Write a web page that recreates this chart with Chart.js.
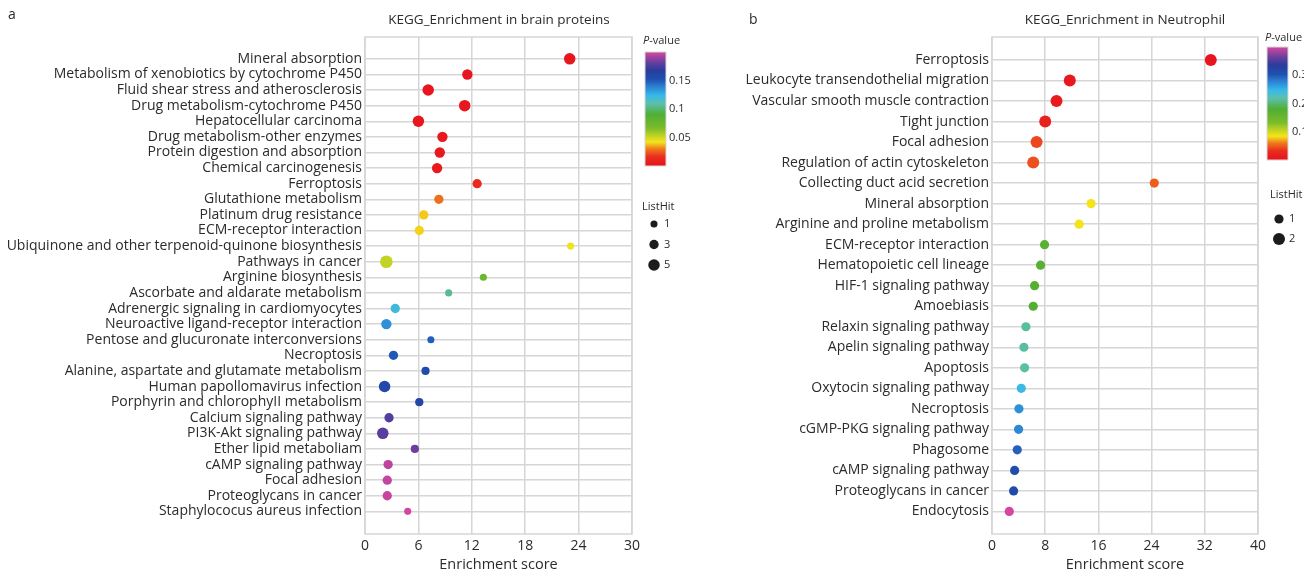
<!DOCTYPE html>
<html>
<head>
<meta charset="utf-8">
<script src="https://cdn.jsdelivr.net/npm/chart.js@4.4.1/dist/chart.umd.min.js"></script>
<style>
    html, body { margin: 0; padding: 0; background: #fff; width: 1304px; height: 571px; overflow: hidden; }
    body { position: relative; font-family: "Open Sans", sans-serif; color: #2b2b2b; }
    .panel { position: absolute; top: 0; height: 571px; }
    #panelA { left: 0; width: 740px; }
    #panelB { left: 740px; width: 564px; }
    .tag { position: absolute; font-size: 14px; line-height: 16px; }
    .title { position: absolute; font-size: 13.5px; line-height: 16px; white-space: nowrap; transform: translateX(-50%); }
</style>
</head>
<body>
<div class="panel" id="panelA"><canvas id="chartA" width="740" height="571"></canvas></div>
<div class="panel" id="panelB"><canvas id="chartB" width="564" height="571"></canvas></div>
<div class="tag" style="left:8px;top:6px">a</div>
<div class="tag" style="left:749px;top:11px">b</div>
<div class="title" style="left:499px;top:11px">KEGG_Enrichment in brain proteins</div>
<div class="title" style="left:1125px;top:11px">KEGG_Enrichment in Neutrophil</div>

<script>
    "use strict";

    // panel a - brain proteins
    const brainPathways = [
        "Mineral absorption",
        "Metabolism of xenobiotics by cytochrome P450",
        "Fluid shear stress and atherosclerosis",
        "Drug metabolism-cytochrome P450",
        "Hepatocellular carcinoma",
        "Drug metabolism-other enzymes",
        "Protein digestion and absorption",
        "Chemical carcinogenesis",
        "Ferroptosis",
        "Glutathione metabolism",
        "Platinum drug resistance",
        "ECM-receptor interaction",
        "Ubiquinone and other terpenoid-quinone biosynthesis",
        "Pathways in cancer",
        "Arginine biosynthesis",
        "Ascorbate and aldarate metabolism",
        "Adrenergic signaling in cardiomyocytes",
        "Neuroactive ligand-receptor interaction",
        "Pentose and glucuronate interconversions",
        "Necroptosis",
        "Alanine, aspartate and glutamate metabolism",
        "Human papollomavirus infection",
        "Porphyrin and chlorophyII metabolism",
        "Calcium signaling pathway",
        "PI3K-Akt signaling pathway",
        "Ether lipid metaboliam",
        "cAMP signaling pathway",
        "Focal adhesion",
        "Proteoglycans in cancer",
        "Staphylococus aureus infection"
    ];
    const brainScores = [23.0, 11.5, 7.1, 11.2, 6.0, 8.7, 8.4, 8.1, 12.6, 8.3,
        6.6, 6.1, 23.1, 2.4, 13.3, 9.4, 3.4, 2.4, 7.4, 3.2,
        6.8, 2.2, 6.1, 2.7, 2.0, 5.6, 2.6, 2.5, 2.5, 4.8];
    const brainPValues = [0.001, 0.002, 0.002, 0.003, 0.003, 0.004, 0.004, 0.005, 0.015, 0.028,
        0.039, 0.040, 0.043, 0.053, 0.075, 0.105, 0.120, 0.135, 0.148, 0.150,
        0.155, 0.158, 0.160, 0.177, 0.178, 0.182, 0.196, 0.197, 0.198, 0.200];
    const brainHits = [5, 4, 5, 5, 5, 4, 4, 4, 3, 3,
        3, 3, 1, 6, 1, 1, 3, 4, 1, 3,
        2, 5, 2, 3, 5, 2, 3, 3, 3, 1];
    const brainXTicks = [0, 6, 12, 18, 24, 30];
    const brainPRange = [0, 0.2];
    const brainPTicks = [0.05, 0.1, 0.15];
    const brainHitTicks = [1, 3, 5];

    // panel b - neutrophil
    const neutroPathways = [
        "Ferroptosis",
        "Leukocyte transendothelial migration",
        "Vascular smooth muscle contraction",
        "Tight junction",
        "Focal adhesion",
        "Regulation of actin cytoskeleton",
        "Collecting duct acid secretion",
        "Mineral absorption",
        "Arginine and proline metabolism",
        "ECM-receptor interaction",
        "Hematopoietic cell lineage",
        "HIF-1 signaling pathway",
        "Amoebiasis",
        "Relaxin signaling pathway",
        "Apelin signaling pathway",
        "Apoptosis",
        "Oxytocin signaling pathway",
        "Necroptosis",
        "cGMP-PKG signaling pathway",
        "Phagosome",
        "cAMP signaling pathway",
        "Proteoglycans in cancer",
        "Endocytosis"
    ];
    const neutroScores = [32.9, 11.7, 9.7, 8.0, 6.7, 6.2, 24.4, 14.9, 13.1, 7.9,
        7.3, 6.4, 6.2, 5.1, 4.8, 4.9, 4.4, 4.05, 4.0, 3.8,
        3.4, 3.25, 2.6];
    const neutroPValues = [0.004, 0.008, 0.012, 0.018, 0.042, 0.045, 0.050, 0.084, 0.085, 0.170,
        0.172, 0.175, 0.176, 0.215, 0.216, 0.217, 0.245, 0.270, 0.275, 0.295,
        0.310, 0.312, 0.400];
    const neutroHits = [2, 2, 2, 2, 2, 2, 1, 1, 1, 1,
        1, 1, 1, 1, 1, 1, 1, 1, 1, 1,
        1, 1, 1];
    const neutroXTicks = [0, 8, 16, 24, 32, 40];
    const neutroPRange = [0, 0.4];
    const neutroPTicks = [0.1, 0.2, 0.3];
    const neutroHitTicks = [1, 2];

    const FONT = '"Open Sans", sans-serif';
    const TEXT = "#2b2b2b";
    const GRID = "#d6d6d6";

    // rainbow scale of the p-value bars, bottom (low p) to top (high p)
    const colorStops = [
        [0.00, "#e8121e"], [0.08, "#e92c1e"], [0.15, "#ef7a1c"], [0.21, "#f4e41a"],
        [0.26, "#c6d522"], [0.33, "#7cbc2a"], [0.45, "#4fae34"], [0.55, "#5cc0b0"],
        [0.62, "#36b8ea"], [0.70, "#2a7ed0"], [0.76, "#1e50b0"], [0.84, "#2a3c9c"],
        [0.91, "#6a3f9e"], [1.00, "#d4469f"]
    ];

    function hexRgb(hex) {
        const n = parseInt(hex.slice(1), 16);
        return [(n >> 16) & 255, (n >> 8) & 255, n & 255];
    }

    function pColor(p, range) {
        const t = Math.max(0, Math.min(1, (p - range[0]) / (range[1] - range[0])));
        for (let i = 1; i < colorStops.length; i++) {
            const [t1, c1] = colorStops[i];
            if (t <= t1) {
                const [t0, c0] = colorStops[i - 1];
                const f = (t - t0) / (t1 - t0);
                const a = hexRgb(c0), b = hexRgb(c1);
                const mix = a.map((v, k) => Math.round(v + (b[k] - v) * f));
                return `rgb(${mix[0]},${mix[1]},${mix[2]})`;
            }
        }
        return colorStops[colorStops.length - 1][1];
    }

    const framePlugin = {
        id: "frame",
        beforeDatasetsDraw(chart) {
            const { ctx, chartArea: a } = chart;
            ctx.save();
            ctx.strokeStyle = GRID;
            ctx.lineWidth = 1.5;
            ctx.strokeRect(a.left, a.top, a.right - a.left, a.bottom - a.top);
            ctx.restore();
        }
    };

    // colour bar + ListHit key, drawn to the right of the plot
    function keyPlugin(k) {
        return {
            id: "key",
            afterDraw(chart) {
                const ctx = chart.ctx;
                ctx.save();
                ctx.textBaseline = "middle";
                ctx.textAlign = "left";
                ctx.fillStyle = TEXT;
                ctx.font = `italic 11px ${FONT}`;
                ctx.fillText("P", k.titleX, k.titleY);
                const pw = ctx.measureText("P").width;
                ctx.font = `11px ${FONT}`;
                ctx.fillText("-value", k.titleX + pw, k.titleY);

                const g = ctx.createLinearGradient(0, k.barY + k.barH, 0, k.barY);
                colorStops.forEach(([t, c]) => g.addColorStop(t, c));
                ctx.fillStyle = g;
                ctx.fillRect(k.barX, k.barY, k.barW, k.barH);
                ctx.strokeStyle = "#d8d8d8";
                ctx.lineWidth = 1;
                ctx.strokeRect(k.barX, k.barY, k.barW, k.barH);

                ctx.fillStyle = TEXT;
                k.pTicks.forEach(p => {
                    const y = k.barY + k.barH - (p - k.pRange[0]) / (k.pRange[1] - k.pRange[0]) * k.barH;
                    ctx.fillText(String(p), k.labelX, y);
                });

                ctx.fillText("ListHit", k.hitX, k.hitY);
                k.hitTicks.forEach((h, i) => {
                    const y = k.dotY + i * k.dotGap;
                    ctx.beginPath();
                    ctx.arc(k.dotX, y, k.rBase + k.rStep * h, 0, Math.PI * 2);
                    ctx.fillStyle = "#1c1c1c";
                    ctx.fill();
                    ctx.fillStyle = TEXT;
                    ctx.fillText(String(h), k.dotX + 10, y);
                });
                ctx.restore();
            }
        };
    }

    function makePanel(canvasId, d, k) {
        const last = d.labels.length - 1;
        return new Chart(document.getElementById(canvasId), {
            type: "scatter",
            data: {
                datasets: [{
                    data: d.scores.map((x, i) => ({ x, y: i })),
                    backgroundColor: d.pvals.map(p => pColor(p, d.pRange)),
                    borderWidth: 0,
                    pointRadius: d.hits.map(h => k.rBase + k.rStep * h),
                    pointHoverRadius: d.hits.map(h => k.rBase + k.rStep * h)
                }]
            },
            options: {
                responsive: false,
                animation: false,
                devicePixelRatio: 1,
                layout: { padding: { top: 37, right: k.padRight, bottom: 0, left: 0 } },
                plugins: { legend: { display: false }, tooltip: { enabled: false } },
                scales: {
                    x: {
                        type: "linear",
                        min: d.xTicks[0],
                        max: d.xTicks[d.xTicks.length - 1],
                        afterBuildTicks: s => { s.ticks = d.xTicks.map(v => ({ value: v })); },
                        afterFit: s => { s.height = 37; },
                        grid: { color: GRID, lineWidth: 1.5, drawTicks: false },
                        border: { display: false },
                        ticks: { color: TEXT, font: { family: FONT, size: 14 }, padding: 4, maxRotation: 0 },
                        title: {
                            display: true, text: "Enrichment score", color: TEXT,
                            font: { family: FONT, size: 14.5 }, padding: { top: 0, bottom: -3 }
                        }
                    },
                    y: {
                        type: "linear",
                        reverse: true,
                        min: -d.padRows[0],
                        max: last + d.padRows[1],
                        afterBuildTicks: s => { s.ticks = d.labels.map((_, i) => ({ value: i })); },
                        afterFit: s => { s.width = k.plotLeft; },
                        grid: { color: GRID, lineWidth: 1.5, drawTicks: false },
                        border: { display: false },
                        ticks: {
                            autoSkip: false,
                            color: TEXT,
                            font: { family: FONT, size: 14 },
                            padding: 3,
                            callback: v => d.labels[v]
                        }
                    }
                }
            },
            plugins: [framePlugin, keyPlugin(k)]
        });
    }

    makePanel("chartA", {
        labels: brainPathways, scores: brainScores, pvals: brainPValues, hits: brainHits,
        xTicks: brainXTicks, pRange: brainPRange, padRows: [1.4, 1.45]
    }, {
        plotLeft: 365, padRight: 108, rBase: 3, rStep: 0.55,
        titleX: 643, titleY: 41, barX: 645, barY: 52, barW: 21, barH: 114, labelX: 669,
        pRange: brainPRange, pTicks: brainPTicks,
        hitX: 642, hitY: 207, dotX: 654, dotY: 224, dotGap: 20.5, hitTicks: brainHitTicks
    });

    makePanel("chartB", {
        labels: neutroPathways, scores: neutroScores, pvals: neutroPValues, hits: neutroHits,
        xTicks: neutroXTicks, pRange: neutroPRange, padRows: [1.12, 1.1]
    }, {
        plotLeft: 252, padRight: 46, rBase: 3.2, rStep: 1.4,
        titleX: 525, titleY: 38, barX: 527, barY: 47, barW: 21, barH: 113, labelX: 552,
        pRange: neutroPRange, pTicks: neutroPTicks,
        hitX: 530, hitY: 195, dotX: 539, dotY: 219, dotGap: 20, hitTicks: neutroHitTicks
    });
</script>
</body>
</html>
